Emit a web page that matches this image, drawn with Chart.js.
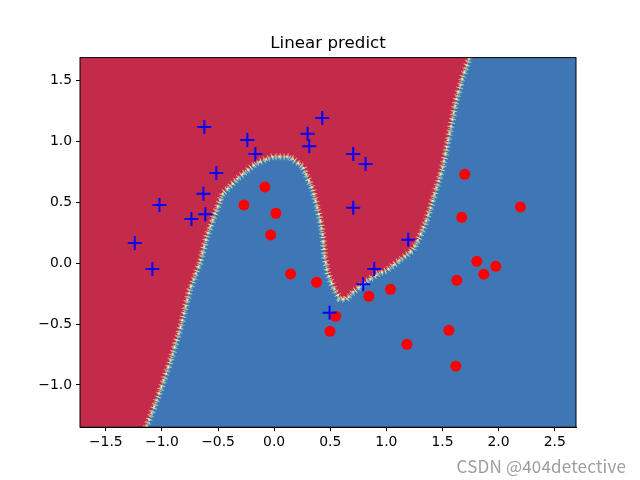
<!DOCTYPE html>
<html>
<head>
<meta charset="utf-8">
<script src="https://cdn.jsdelivr.net/npm/chart.js@4.4.1/dist/chart.umd.min.js"></script>
<style>
  html, body { margin: 0; padding: 0; background: #fff; }
  #wrap { position: relative; width: 640px; height: 480px; }
  #mark { position: absolute; right: 14px; bottom: 2px; font-family: "Noto Sans CJK SC", "Noto Sans", sans-serif;
          font-size: 17px; color: rgba(140,140,140,0.85); letter-spacing: 0.2px; }
</style>
</head>
<body>
<div id="wrap">
  <canvas id="chart" width="640" height="480"></canvas>
  <div id="mark">CSDN @404detective</div>
</div>
<script>
// class 0 samples (blue plus markers)
const plusX = [-1.242, -1.085, -0.622, -0.239, -0.167, -0.515, -0.630, -1.022, -0.737, -0.613,
               0.298, 0.313, 0.429, 0.705, 0.815, 0.705, 1.195, 0.892, 0.794, 0.494];
const plusY = [0.167, -0.047, 1.120, 1.013, 0.898, 0.742, 0.572, 0.479, 0.364, 0.403,
               1.065, 0.961, 1.194, 0.898, 0.816, 0.457, 0.194, -0.047, -0.173, -0.406];

// class 1 samples (red dots)
const dotX = [-0.082, -0.269, 0.016, -0.031, 0.147, 0.378, 1.699, 2.195, 1.672, 1.806,
              1.975, 1.868, 1.628, 1.037, 0.844, 0.548, 0.497, 1.557, 1.183, 1.619];
const dotY = [0.627, 0.479, 0.411, 0.233, -0.088, -0.156, 0.731, 0.463, 0.378, 0.016,
              -0.025, -0.090, -0.140, -0.214, -0.271, -0.436, -0.559, -0.551, -0.666, -0.846];

// decision boundary (red above, blue below)
const edgeX = [-1.73, -1.14, -1.035, -0.931, -0.841, -0.752, -0.663, -0.60, -0.53, -0.456,
               -0.307, -0.159, -0.011, 0.138, 0.256, 0.345, 0.405, 0.435, 0.450, 0.479,
               0.524, 0.583, 0.64, 0.70, 0.821, 0.939, 1.0, 1.236, 1.296, 1.36,
               1.414, 1.503, 1.563, 1.622, 1.681, 1.741, 2.69];
const edgeY = [-1.347, -1.347, -1.096, -0.822, -0.548, -0.219, 0.0, 0.22, 0.40, 0.575,
               0.712, 0.822, 0.876, 0.876, 0.794, 0.602, 0.383, 0.219, 0.054, -0.082,
               -0.192, -0.29, -0.30, -0.24, -0.15, -0.08, -0.06, 0.109, 0.219, 0.36,
               0.52, 0.794, 1.068, 1.342, 1.533, 1.69, 1.69];

const xTicks = [-1.5, -1.0, -0.5, 0.0, 0.5, 1.0, 1.5, 2.0, 2.5];
const yTicks = [-1.0, -0.5, 0.0, 0.5, 1.0, 1.5];

const toPts = (xs, ys) => xs.map((x, i) => ({ x: x, y: ys[i] }));
const edge = toPts(edgeX, edgeY);
// the noisy band only follows the curved part, not the flat ends on the frame
const band = edge.slice(1, edge.length - 1);
const fmt = v => v.toFixed(1).replace('-', '\u2212');

const frame = {
  id: 'frame',
  afterDraw(chart) {
    const { ctx, chartArea: a } = chart;
    ctx.save();
    ctx.strokeStyle = '#000';
    ctx.lineWidth = 1;
    ctx.strokeRect(a.left, a.top, a.right - a.left, a.bottom - a.top);
    ctx.fillStyle = '#000';
    ctx.font = '16.7px "DejaVu Sans"';
    ctx.textAlign = 'center';
    ctx.textBaseline = 'alphabetic';
    ctx.fillText('Linear predict', (a.left + a.right) / 2, 48);
    ctx.restore();
  }
};

const lineDs = (extra) => Object.assign({
  data: edge, showLine: true, pointRadius: 0, borderWidth: 0, tension: 0
}, extra);

new Chart(document.getElementById('chart'), {
  type: 'line',
  data: {
    datasets: [
      { data: toPts(plusX, plusY), showLine: false, pointStyle: 'cross', pointRadius: 7,
        borderColor: '#0000ff', pointBorderWidth: 2, order: 0 },
      { data: toPts(dotX, dotY), showLine: false, pointStyle: 'circle', pointRadius: 5.5,
        backgroundColor: '#ff0000', borderColor: '#ff0000', pointBorderWidth: 0, order: 0 },
      lineDs({ data: band, borderColor: 'rgba(255,255,191,0.55)', borderWidth: 7, borderDash: [1, 3], order: 1 }),
      lineDs({ data: band, borderColor: 'rgba(171,221,164,0.85)', borderWidth: 4, borderDash: [1, 2], borderDashOffset: 1, order: 1 }),
      lineDs({ data: band, borderColor: 'rgba(240,245,160,0.95)', borderWidth: 2, borderDash: [2, 5], order: 1 }),
      lineDs({ data: band, borderColor: 'rgba(102,194,165,0.7)', borderWidth: 1, borderDash: [1, 6], borderDashOffset: 3, order: 1 }),
      lineDs({ fill: 'end', backgroundColor: 'rgb(196,43,74)', order: 2 }),
      lineDs({ fill: 'start', backgroundColor: 'rgb(63,119,180)', order: 2 })
    ]
  },
  options: {
    responsive: false,
    animation: false,
    layout: { padding: { left: 0, right: 64, top: 57.6, bottom: 0 } },
    plugins: { legend: { display: false }, tooltip: { enabled: false } },
    scales: {
      x: {
        type: 'linear', min: -1.73, max: 2.69,
        afterBuildTicks: axis => { axis.ticks = xTicks.map(v => ({ value: v })); },
        afterFit: axis => { axis.height = 52.8; },
        grid: { drawOnChartArea: false, tickLength: 4, color: '#000' },
        border: { color: '#000' },
        ticks: { color: '#000', padding: 3, maxRotation: 0, font: { family: 'DejaVu Sans', size: 13.9 }, callback: fmt }
      },
      y: {
        type: 'linear', min: -1.347, max: 1.69,
        afterBuildTicks: axis => { axis.ticks = yTicks.map(v => ({ value: v })); },
        afterFit: axis => { axis.width = 80; },
        grid: { drawOnChartArea: false, tickLength: 4, color: '#000' },
        border: { color: '#000' },
        ticks: { color: '#000', padding: 4, font: { family: 'DejaVu Sans', size: 13.9 }, callback: fmt }
      }
    }
  },
  plugins: [frame]
});
</script>
</body>
</html>
